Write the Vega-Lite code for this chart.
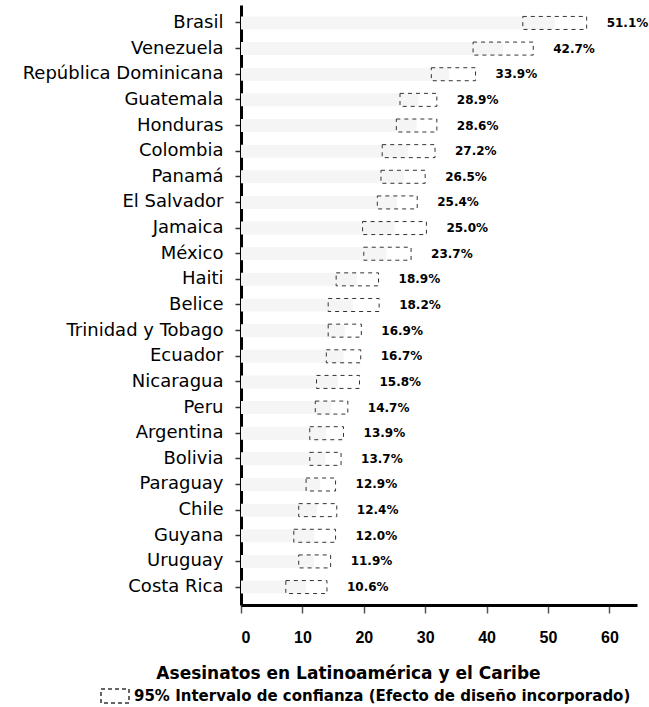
{
  "$schema": "https://vega.github.io/schema/vega-lite/v6.json",
  "width": 396,
  "height": 600,
  "autosize": "none",
  "padding": {"left": 241, "top": 5, "right": 12, "bottom": 102},
  "background": "white",
  "config": {"view": {"stroke": null}, "font": "DejaVu Sans"},
  "data": {
    "values": [
      {"country": "Brasil", "value": 51.1, "lo": 45.9, "hi": 56.3, "label": "51.1%"},
      {"country": "Venezuela", "value": 42.7, "lo": 37.8, "hi": 47.6, "label": "42.7%"},
      {"country": "República Dominicana", "value": 33.9, "lo": 31.0, "hi": 38.2, "label": "33.9%"},
      {"country": "Guatemala", "value": 28.9, "lo": 25.9, "hi": 31.9, "label": "28.9%"},
      {"country": "Honduras", "value": 28.6, "lo": 25.3, "hi": 31.9, "label": "28.6%"},
      {"country": "Colombia", "value": 27.2, "lo": 23.0, "hi": 31.6, "label": "27.2%"},
      {"country": "Panamá", "value": 26.5, "lo": 22.8, "hi": 30.0, "label": "26.5%"},
      {"country": "El Salvador", "value": 25.4, "lo": 22.2, "hi": 28.7, "label": "25.4%"},
      {"country": "Jamaica", "value": 25.0, "lo": 19.8, "hi": 30.2, "label": "25.0%"},
      {"country": "México", "value": 23.7, "lo": 20.0, "hi": 27.7, "label": "23.7%"},
      {"country": "Haiti", "value": 18.9, "lo": 15.5, "hi": 22.4, "label": "18.9%"},
      {"country": "Belice", "value": 18.2, "lo": 14.2, "hi": 22.5, "label": "18.2%"},
      {"country": "Trinidad y Tobago", "value": 16.9, "lo": 14.2, "hi": 19.6, "label": "16.9%"},
      {"country": "Ecuador", "value": 16.7, "lo": 13.9, "hi": 19.5, "label": "16.7%"},
      {"country": "Nicaragua", "value": 15.8, "lo": 12.3, "hi": 19.3, "label": "15.8%"},
      {"country": "Peru", "value": 14.7, "lo": 12.1, "hi": 17.4, "label": "14.7%"},
      {"country": "Argentina", "value": 13.9, "lo": 11.2, "hi": 16.7, "label": "13.9%"},
      {"country": "Bolivia", "value": 13.7, "lo": 11.2, "hi": 16.3, "label": "13.7%"},
      {"country": "Paraguay", "value": 12.9, "lo": 10.6, "hi": 15.4, "label": "12.9%"},
      {"country": "Chile", "value": 12.4, "lo": 9.4, "hi": 15.6, "label": "12.4%"},
      {"country": "Guyana", "value": 12.0, "lo": 8.6, "hi": 15.4, "label": "12.0%"},
      {"country": "Uruguay", "value": 11.9, "lo": 9.4, "hi": 14.6, "label": "11.9%"},
      {"country": "Costa Rica", "value": 10.6, "lo": 7.3, "hi": 14.0, "label": "10.6%"}
    ]
  },
  "encoding": {
    "y": {
      "field": "country",
      "type": "nominal",
      "sort": ["Brasil", "Venezuela", "República Dominicana", "Guatemala", "Honduras", "Colombia", "Panamá", "El Salvador", "Jamaica", "México", "Haiti", "Belice", "Trinidad y Tobago", "Ecuador", "Nicaragua", "Peru", "Argentina", "Bolivia", "Paraguay", "Chile", "Guyana", "Uruguay", "Costa Rica"],
      "scale": {"paddingInner": 0.3, "paddingOuter": 0.35},
      "axis": {
        "title": null,
        "labelFont": "DejaVu Sans",
        "labelFontSize": 18,
        "labelColor": "black",
        "labelLimit": 300,
        "tickSize": 6,
        "tickColor": "#333",
        "tickWidth": 1.5,
        "labelPadding": 12,
        "domainColor": "black",
        "domainWidth": 3,
        "grid": false
      }
    }
  },
  "layer": [
    {
      "mark": {"type": "bar", "color": "#f5f5f5", "height": 13},
      "encoding": {
        "x": {
          "field": "value",
          "type": "quantitative",
          "scale": {"domain": [0, 64.5], "nice": false},
          "axis": {
            "values": [0, 10, 20, 30, 40, 50, 60],
            "grid": false,
            "domainColor": "black",
            "domainWidth": 3,
            "tickColor": "#555",
            "tickSize": 8,
            "tickWidth": 1.5,
            "labelFont": "Liberation Sans",
            "labelFontSize": 16,
            "labelFontWeight": "bold",
            "labelColor": "black",
            "labelPadding": 16,
            "title": "Asesinatos en Latinoamérica y el Caribe",
            "titleFont": "DejaVu Sans",
            "titleFontSize": 17,
            "titleFontWeight": "bold",
            "titleColor": "black",
            "titleX": 107,
            "titleY": 68,
            "titleAlign": "center",
            "titleBaseline": "middle"
          }
        }
      }
    },
    {
      "mark": {"type": "bar", "fill": "transparent", "strokeDash": [4, 4], "strokeWidth": 1, "height": 13},
      "encoding": {
        "x": {"field": "lo", "type": "quantitative"},
        "x2": {"field": "hi"},
        "stroke": {
          "datum": "95% Intervalo de confianza (Efecto de diseño incorporado)",
          "type": "nominal",
          "scale": {"range": ["#333333"]},
          "legend": {
            "orient": "none",
            "legendX": -141,
            "legendY": 676,
            "title": null,
            "padding": 0,
            "symbolType": "M-1,-0.5H1V0.5H-1Z",
            "symbolSize": 784,
            "symbolStrokeWidth": 1.5,
            "symbolDash": [4, 3],
            "symbolFillColor": "white",
            "labelFont": "DejaVu Sans",
            "labelFontWeight": "bold",
            "labelFontSize": 15,
            "labelColor": "black",
            "labelOffset": 4,
            "labelLimit": 700
          }
        }
      }
    },
    {
      "mark": {"type": "text", "align": "left", "baseline": "middle", "dx": 20, "font": "DejaVu Sans", "fontSize": 12, "fontWeight": "bold", "color": "black"},
      "encoding": {
        "x": {"field": "hi", "type": "quantitative"},
        "text": {"field": "label"}
      }
    }
  ]
}
